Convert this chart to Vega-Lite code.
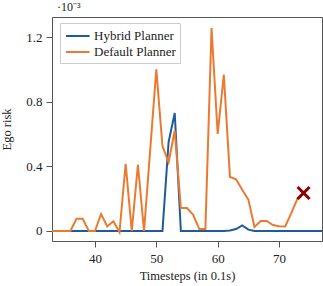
{
  "$schema": "https://vega.github.io/schema/vega-lite/v6.json",
  "autosize": {"type": "none"},
  "padding": {"left": 52, "top": 17, "right": 1, "bottom": 45},
  "width": 270,
  "height": 224,
  "background": "white",
  "config": {
    "font": "Liberation Serif",
    "view": {"stroke": "#555555", "strokeWidth": 1},
    "axis": {"grid": false, "domain": false, "tickColor": "#555555", "tickSize": 6, "labelFont": "Liberation Serif", "titleFont": "Liberation Serif", "labelFontSize": 13, "titleFontSize": 12.5, "labelColor": "#222222", "titleColor": "#222222", "titleFontWeight": "normal"}
  },
  "title": {"text": "·10⁻³", "anchor": "start", "frame": "group", "dx": 5, "offset": 3, "font": "Liberation Serif", "fontSize": 12, "fontWeight": "normal", "color": "#222222"},
  "datasets": {
    "lines": [
      {"t": 33, "planner": "Hybrid Planner", "risk": 0},
      {"t": 34, "planner": "Hybrid Planner", "risk": 0},
      {"t": 35, "planner": "Hybrid Planner", "risk": 0},
      {"t": 36, "planner": "Hybrid Planner", "risk": 0},
      {"t": 37, "planner": "Hybrid Planner", "risk": 0},
      {"t": 38, "planner": "Hybrid Planner", "risk": 0},
      {"t": 39, "planner": "Hybrid Planner", "risk": 0},
      {"t": 40, "planner": "Hybrid Planner", "risk": 0},
      {"t": 41, "planner": "Hybrid Planner", "risk": 0},
      {"t": 42, "planner": "Hybrid Planner", "risk": 0},
      {"t": 43, "planner": "Hybrid Planner", "risk": 0},
      {"t": 44, "planner": "Hybrid Planner", "risk": 0},
      {"t": 45, "planner": "Hybrid Planner", "risk": 0},
      {"t": 46, "planner": "Hybrid Planner", "risk": 0},
      {"t": 47, "planner": "Hybrid Planner", "risk": 0},
      {"t": 48, "planner": "Hybrid Planner", "risk": 0},
      {"t": 49, "planner": "Hybrid Planner", "risk": 0},
      {"t": 50, "planner": "Hybrid Planner", "risk": 0},
      {"t": 51, "planner": "Hybrid Planner", "risk": 0},
      {"t": 52, "planner": "Hybrid Planner", "risk": 0.55},
      {"t": 53, "planner": "Hybrid Planner", "risk": 0.73},
      {"t": 54, "planner": "Hybrid Planner", "risk": 0},
      {"t": 55, "planner": "Hybrid Planner", "risk": 0},
      {"t": 56, "planner": "Hybrid Planner", "risk": 0},
      {"t": 57, "planner": "Hybrid Planner", "risk": 0},
      {"t": 58, "planner": "Hybrid Planner", "risk": 0},
      {"t": 59, "planner": "Hybrid Planner", "risk": 0},
      {"t": 60, "planner": "Hybrid Planner", "risk": 0},
      {"t": 61, "planner": "Hybrid Planner", "risk": 0},
      {"t": 62, "planner": "Hybrid Planner", "risk": 0.003},
      {"t": 63, "planner": "Hybrid Planner", "risk": 0.012},
      {"t": 64, "planner": "Hybrid Planner", "risk": 0.035},
      {"t": 65, "planner": "Hybrid Planner", "risk": 0.008},
      {"t": 66, "planner": "Hybrid Planner", "risk": 0},
      {"t": 67, "planner": "Hybrid Planner", "risk": 0},
      {"t": 68, "planner": "Hybrid Planner", "risk": 0},
      {"t": 69, "planner": "Hybrid Planner", "risk": 0},
      {"t": 70, "planner": "Hybrid Planner", "risk": 0},
      {"t": 71, "planner": "Hybrid Planner", "risk": 0},
      {"t": 72, "planner": "Hybrid Planner", "risk": 0},
      {"t": 73, "planner": "Hybrid Planner", "risk": 0},
      {"t": 74, "planner": "Hybrid Planner", "risk": 0},
      {"t": 75, "planner": "Hybrid Planner", "risk": 0},
      {"t": 76, "planner": "Hybrid Planner", "risk": 0},
      {"t": 77, "planner": "Hybrid Planner", "risk": 0},
      {"t": 33, "planner": "Default Planner", "risk": 0},
      {"t": 34, "planner": "Default Planner", "risk": 0},
      {"t": 35, "planner": "Default Planner", "risk": 0},
      {"t": 36, "planner": "Default Planner", "risk": 0},
      {"t": 37, "planner": "Default Planner", "risk": 0.075},
      {"t": 38, "planner": "Default Planner", "risk": 0.075},
      {"t": 39, "planner": "Default Planner", "risk": 0},
      {"t": 40, "planner": "Default Planner", "risk": 0},
      {"t": 41, "planner": "Default Planner", "risk": 0.105},
      {"t": 42, "planner": "Default Planner", "risk": 0.028},
      {"t": 43, "planner": "Default Planner", "risk": 0.06},
      {"t": 44, "planner": "Default Planner", "risk": -0.008},
      {"t": 45, "planner": "Default Planner", "risk": 0.415},
      {"t": 46, "planner": "Default Planner", "risk": 0},
      {"t": 47, "planner": "Default Planner", "risk": 0.41},
      {"t": 48, "planner": "Default Planner", "risk": 0},
      {"t": 49, "planner": "Default Planner", "risk": 0.5},
      {"t": 50, "planner": "Default Planner", "risk": 1.0},
      {"t": 51, "planner": "Default Planner", "risk": 0.525},
      {"t": 52, "planner": "Default Planner", "risk": 0.425},
      {"t": 53, "planner": "Default Planner", "risk": 0.62},
      {"t": 54, "planner": "Default Planner", "risk": 0.142},
      {"t": 55, "planner": "Default Planner", "risk": 0.142},
      {"t": 56, "planner": "Default Planner", "risk": 0.1},
      {"t": 57, "planner": "Default Planner", "risk": 0.012},
      {"t": 58, "planner": "Default Planner", "risk": 0.012},
      {"t": 59, "planner": "Default Planner", "risk": 1.255},
      {"t": 60, "planner": "Default Planner", "risk": 0.6},
      {"t": 61, "planner": "Default Planner", "risk": 0.967},
      {"t": 62, "planner": "Default Planner", "risk": 0.334},
      {"t": 63, "planner": "Default Planner", "risk": 0.32},
      {"t": 64, "planner": "Default Planner", "risk": 0.255},
      {"t": 65, "planner": "Default Planner", "risk": 0.194},
      {"t": 66, "planner": "Default Planner", "risk": 0.025},
      {"t": 67, "planner": "Default Planner", "risk": 0.062},
      {"t": 68, "planner": "Default Planner", "risk": 0.062},
      {"t": 69, "planner": "Default Planner", "risk": 0.037},
      {"t": 70, "planner": "Default Planner", "risk": 0.03},
      {"t": 71, "planner": "Default Planner", "risk": 0.028},
      {"t": 72, "planner": "Default Planner", "risk": 0.11},
      {"t": 73, "planner": "Default Planner", "risk": 0.2},
      {"t": 74, "planner": "Default Planner", "risk": 0.235}
    ],
    "marker": [
      {"t": 74, "risk": 0.235}
    ]
  },
  "layer": [
    {
      "data": {"name": "lines"},
      "mark": {"type": "line", "strokeWidth": 2, "clip": true},
      "encoding": {
        "x": {"field": "t", "type": "quantitative", "scale": {"domain": [33, 77], "nice": false, "zero": false}, "axis": {"values": [40, 50, 60, 70], "title": "Timesteps (in 0.1s)", "labelPadding": 5, "titlePadding": 4}},
        "y": {"field": "risk", "type": "quantitative", "scale": {"domain": [-0.062, 1.324], "nice": false, "zero": false}, "axis": {"values": [0, 0.2, 0.4, 0.6, 0.8, 1, 1.2], "format": "~g", "title": "Ego risk", "labelPadding": 4, "titlePadding": 12}},
        "color": {"field": "planner", "type": "nominal", "sort": ["Hybrid Planner", "Default Planner"], "scale": {"domain": ["Hybrid Planner", "Default Planner"], "range": ["#1f5b98", "#ea7a30"]},
          "legend": {"title": null, "orient": "none", "legendX": 8, "legendY": 6, "padding": 4, "fillColor": "white", "strokeColor": "#cccccc", "cornerRadius": 0, "symbolType": "M-0.875,0H2.075", "symbolSize": 256, "symbolStrokeWidth": 2, "labelOffset": 12, "labelFontSize": 13, "labelFont": "Liberation Serif", "labelColor": "#222222", "rowPadding": 0}},
        "order": {"field": "t", "type": "quantitative"}
      }
    },
    {
      "data": {"name": "marker"},
      "mark": {"type": "point", "shape": "M-1,-1L1,1M1,-1L-1,1", "size": 144, "strokeWidth": 3, "color": "#8b0000", "filled": false, "opacity": 1},
      "encoding": {
        "x": {"field": "t", "type": "quantitative"},
        "y": {"field": "risk", "type": "quantitative"}
      }
    }
  ]
}
